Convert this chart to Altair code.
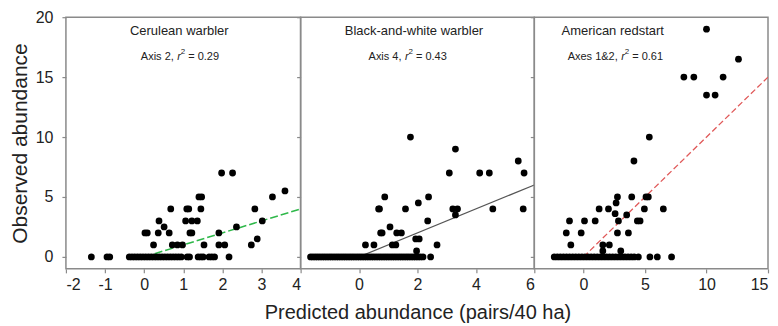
import altair as alt
import pandas as pd

# ---------------- data ----------------
# Cerulean warbler
cer_x = [-1.35, -0.95, -0.88, -0.38, -0.31, -0.24, -0.17, -0.10, -0.03, 0.04, 0.11, 0.18,
         0.25, 0.32, 0.39, 0.46, 0.53, 0.60, 0.67, 0.74, 0.81, 0.88, 0.95, 1.10, 1.16,
         1.38, 1.45, 1.51, 1.66, 1.73, 1.80, 2.17,
         0.24, 0.72, 0.85, 0.98, 1.53, 1.91, 2.06, 2.74,
         2.89,
         0.02, 0.08, 0.36, 0.64, 1.17, 1.22, 1.91,
         0.51, 2.36,
         0.38, 1.06, 1.22, 1.36, 3.02,
         0.68, 1.09, 1.14, 1.45, 2.83,
         1.40, 1.47, 3.28,
         3.60,
         1.98, 2.26]
cer_y = [0, 0, 0, 0, 0, 0, 0, 0, 0, 0, 0, 0,
         0, 0, 0, 0, 0, 0, 0, 0, 0, 0, 0, 0, 0,
         0, 0, 0, 0, 0, 0, 0,
         1, 1, 1, 1, 1, 1, 1, 1,
         1.5,
         2, 2, 2, 2, 2, 2, 2,
         2.5, 2.5,
         3, 3, 3, 3, 3,
         4, 4, 4, 4, 4,
         5, 5, 5,
         5.5,
         7, 7]
cer_fit_x = [0, 4]
cer_fit_y = [0, 4]

# Black-and-white warbler
bw_x = [-1.66, -1.58, -1.50, -1.42, -1.34, -1.26, -1.18, -1.10, -1.02, -0.94, -0.86, -0.78,
        -0.70, -0.62, -0.54, -0.46, -0.38, -0.30, -0.22, -0.14, -0.06, 0.02, 0.10, 0.18,
        0.26, 0.34, 0.42, 0.50, 0.58, 0.66, 0.74, 0.82, 0.90, 0.98, 1.06, 1.14, 1.22,
        1.30, 1.38, 1.46, 1.54, 1.62, 1.70, 1.78, 1.86, 1.94, 2.02, 2.10, 2.19, 2.45,
        1.97,
        0.22, 0.51, 1.14, 1.26, 2.67,
        1.94, 2.06,
        0.74, 0.79, 1.29, 1.45,
        1.06,
        2.35,
        3.30,
        0.67, 0.70, 1.59, 3.21, 3.37, 4.58, 5.62,
        2.03,
        0.88, 2.38,
        3.09, 4.13, 4.46, 5.65,
        5.45,
        3.30,
        1.76]
bw_y = [0, 0, 0, 0, 0, 0, 0, 0, 0, 0, 0, 0,
        0, 0, 0, 0, 0, 0, 0, 0, 0, 0, 0, 0,
        0, 0, 0, 0, 0, 0, 0, 0, 0, 0, 0, 0, 0,
        0, 0, 0, 0, 0, 0, 0, 0, 0, 0, 0, 0, 0,
        0.5,
        1, 1, 1, 1, 1,
        1.5, 1.5,
        2, 2, 2, 2,
        2.5,
        3,
        3.5,
        4, 4, 4, 4, 4, 4, 4,
        4.5,
        5, 5,
        7, 7, 7, 7,
        8,
        9,
        10]
bw_fit_x = [0, 6]
bw_fit_y = [0, 6]

# American redstart
ar_x = [-2.38, -2.13, -1.88, -1.63, -1.38, -1.13, -0.88, -0.63, -0.38, -0.13, 0.12, 0.37,
        0.62, 0.87, 1.12, 1.37, 1.62, 1.87, 2.12, 2.37, 2.62, 2.87, 3.12, 3.37, 3.62,
        3.87, 4.12, 4.46, 5.40, 6.00, 7.16,
        1.57, 3.03,
        -1.03, 1.57, 2.10,
        -1.40, -0.19, 2.76, 3.65,
        -1.14, 0.08, 0.95, 2.84, 4.38, 4.60,
        3.51, 2.57,
        1.27, 2.03, 4.95, 6.49,
        2.65,
        2.76, 3.92, 5.08, 5.27,
        4.10,
        5.35,
        10.0, 10.7,
        8.16, 8.97, 11.35,
        12.6,
        10.0]
ar_y = [0, 0, 0, 0, 0, 0, 0, 0, 0, 0, 0, 0,
        0, 0, 0, 0, 0, 0, 0, 0, 0, 0, 0, 0, 0,
        0, 0, 0, 0, 0, 0,
        0.5, 0.5,
        1, 1, 1,
        2, 2, 2, 2,
        3, 3, 3, 3, 3, 3,
        3.5, 3.6,
        4, 4, 4, 4,
        4.5,
        5, 5, 5, 5,
        8,
        10,
        13.5, 13.5,
        15, 15, 15,
        16.5,
        19]
ar_fit_x = [0, 15]
ar_fit_y = [0, 15]

panel_titles = ["Cerulean warbler", "Black-and-white warbler", "American redstart"]
panel_prefix = ["Axis 2,", "Axis 4,", "Axes 1&2,"]
panel_r2 = ["= 0.29", "= 0.43", "= 0.61"]
x_domains = [[-2, 4], [-2, 6], [-4, 15]]
x_ticks = [[-2, -1, 0, 1, 2, 3, 4], [0, 2, 4, 6], [0, 5, 10, 15]]
y_ticks = [0, 5, 10, 15, 20]
y_domain = [-1, 20]

FONT = "Liberation Sans"
TXT = "#222222"
W1, W, H = 235, 234, 252


def panel(i, xs, ys, fx, fy, line_color, line_dash, line_width, width,
          title_x, title_anchor, r_x):
    df = pd.DataFrame({"x": xs, "y": ys})
    fit = pd.DataFrame({"x": fx, "y": fy})
    xscale = alt.Scale(domain=x_domains[i], nice=False, zero=False)
    yscale = alt.Scale(domain=y_domain, nice=False, zero=False)

    if i == 0:
        yaxis = alt.Axis(values=y_ticks, title="Observed abundance", titleFontSize=21,
                         titlePadding=5, titleFont=FONT, titleColor=TXT, titleFontWeight="normal")
    else:
        yaxis = alt.Axis(values=y_ticks, labels=False, title=None)
    hyphen = "replace(datum.label, '\u2212', '-')"
    if i == 1:
        xaxis = alt.Axis(values=x_ticks[i], title="Predicted abundance (pairs/40 ha)",
                         titleFontSize=20, titlePadding=10, titleFont=FONT,
                         titleColor=TXT, titleFontWeight="normal", labelExpr=hyphen)
    else:
        xaxis = alt.Axis(values=x_ticks[i], title=None, labelExpr=hyphen)

    line_kwargs = dict(color=line_color, strokeWidth=line_width, clip=True)
    if line_dash:
        line_kwargs["strokeDash"] = line_dash
    line = alt.Chart(fit).mark_line(**line_kwargs).encode(
        x=alt.X("x:Q", scale=xscale, axis=xaxis),
        y=alt.Y("y:Q", scale=yscale, axis=yaxis),
    )
    pts = alt.Chart(df).mark_circle(size=46, color="#000000", opacity=1).encode(
        x=alt.X("x:Q", scale=xscale, axis=xaxis),
        y=alt.Y("y:Q", scale=yscale, axis=yaxis),
    )

    def txt(s, x, y, align, size, style="normal", baseline="middle"):
        return alt.Chart(pd.DataFrame({"t": [s]})).mark_text(
            align=align, baseline=baseline, font=FONT, fontSize=size,
            fontStyle=style, color=TXT
        ).encode(text="t:N", x=alt.value(x), y=alt.value(y))

    title = txt(panel_titles[i], title_x, 13.5, title_anchor, 13)
    sub_y = 39.5
    parts = [
        txt(panel_prefix[i], r_x - 3.5, sub_y, "right", 11),
        txt("r", r_x, sub_y, "left", 11, style="italic"),
        txt("2", r_x + 3.6, sub_y - 5, "left", 8),
        txt(panel_r2[i], r_x + 11, sub_y, "left", 11),
    ]
    return alt.layer(line, pts, title, *parts).properties(width=width, height=H)


p1 = panel(0, cer_x, cer_y, cer_fit_x, cer_fit_y, "#2fb84a", [8, 3], 1.5, W1,
           113.5, "center", 111.5)
p2 = panel(1, bw_x, bw_y, bw_fit_x, bw_fit_y, "#555555", None, 1.2, W,
           113.5, "center", 104.5)
p3 = panel(2, ar_x, ar_y, ar_fit_x, ar_fit_y, "#e05a5a", [6, 3], 1.3, W,
           78.5, "center", 87)

chart = alt.hconcat(p1, p2, p3, spacing=0, bounds="flush").properties(
    padding={"left": 0, "top": 0, "right": 0, "bottom": 0}
).configure_view(
    stroke="#8a8a8a", strokeWidth=1.5
).configure_axis(
    domain=False, grid=False, ticks=True, tickColor="#8a8a8a", tickSize=4, tickWidth=1.2,
    labelFont=FONT, labelFontSize=16, labelColor=TXT, labelPadding=9,
).configure_axisX(
    labelPadding=4
)

chart.save("out.html", embed_options={"renderer": "svg", "actions": False})
